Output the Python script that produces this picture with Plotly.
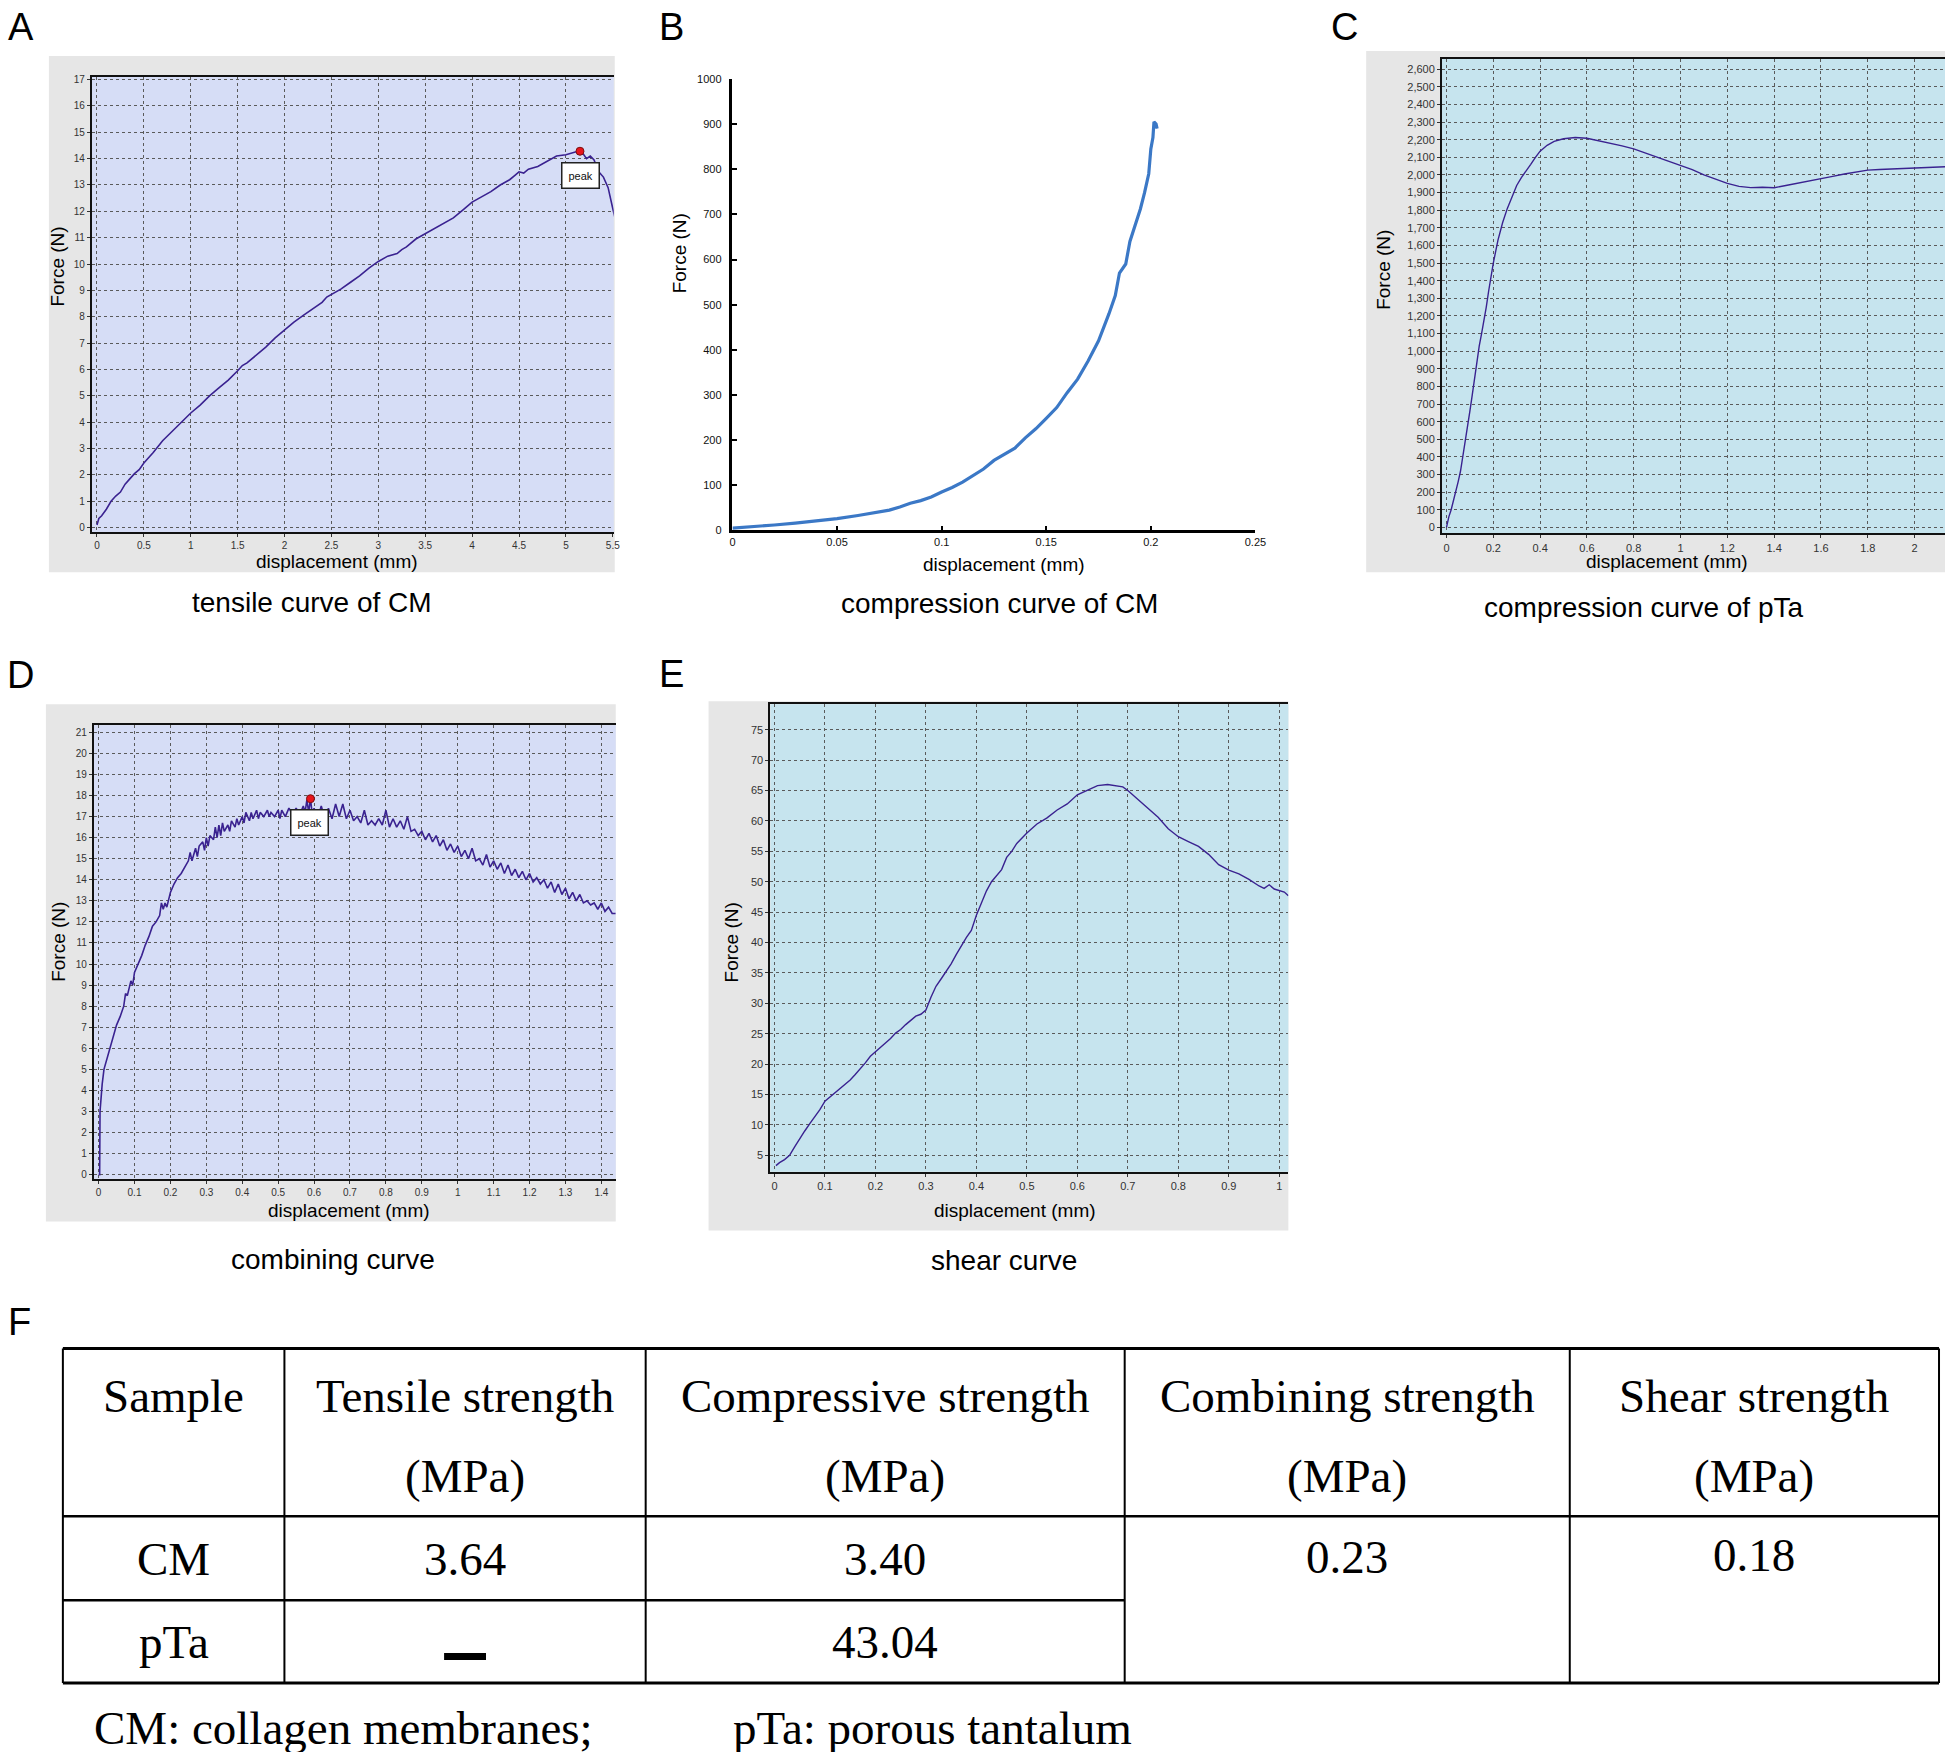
import plotly.graph_objects as go

# ---------------- DATA ----------------
# A: tensile curve of CM
tensile_disp = [0.00, 0.02, 0.05, 0.10, 0.15, 0.20, 0.25, 0.30, 0.35, 0.40, 0.45, 0.50, 0.60, 0.70, 0.80,
                0.90, 1.00, 1.10, 1.20, 1.30, 1.40, 1.50, 1.55, 1.60, 1.70, 1.80, 1.90, 2.00, 2.10, 2.20,
                2.30, 2.40, 2.45, 2.50, 2.60, 2.70, 2.80, 2.90, 3.00, 3.10, 3.20, 3.25, 3.30, 3.40, 3.50,
                3.60, 3.70, 3.80, 3.90, 4.00, 4.10, 4.20, 4.30, 4.40, 4.45, 4.50, 4.55, 4.60, 4.70, 4.80,
                4.90, 5.00, 5.05, 5.10, 5.15, 5.18, 5.22, 5.26, 5.30, 5.35, 5.40, 5.45, 5.50, 5.52]
tensile_force = [0.10, 0.35, 0.45, 0.70, 1.00, 1.20, 1.35, 1.65, 1.85, 2.05, 2.20, 2.45, 2.85, 3.30, 3.65,
                 4.00, 4.35, 4.65, 5.00, 5.30, 5.60, 5.95, 6.15, 6.25, 6.55, 6.85, 7.20, 7.50, 7.80, 8.05,
                 8.30, 8.55, 8.75, 8.85, 9.05, 9.30, 9.55, 9.85, 10.10, 10.30, 10.40, 10.55, 10.65, 10.95, 11.15,
                 11.35, 11.55, 11.75, 12.05, 12.35, 12.55, 12.75, 13.00, 13.20, 13.35, 13.50, 13.45, 13.60, 13.70, 13.90,
                 14.10, 14.15, 14.20, 14.25, 14.27, 14.20, 14.00, 14.10, 13.95, 13.50, 13.30, 12.90, 12.10, 11.80]
tensile_peak = (5.15, 14.28)

# B: compression curve of CM
compCM_disp = [0.000, 0.010, 0.020, 0.030, 0.040, 0.050, 0.060, 0.065, 0.070, 0.075, 0.080, 0.085, 0.090,
               0.095, 0.100, 0.105, 0.110, 0.115, 0.120, 0.125, 0.130, 0.135, 0.140, 0.145, 0.150, 0.155,
               0.160, 0.165, 0.170, 0.175, 0.180, 0.183, 0.185, 0.188, 0.190, 0.193, 0.195, 0.197, 0.199,
               0.200, 0.201, 0.2015, 0.2025, 0.203]
compCM_force = [5, 8, 12, 16, 21, 26, 33, 37, 42, 45, 52, 60, 66,
                74, 85, 95, 107, 122, 136, 155, 168, 182, 205, 225, 248, 272,
                305, 335, 375, 420, 480, 520, 570, 590, 640, 680, 712, 748, 790,
                845, 870, 905, 900, 890]

# C: compression curve of pTa
compTa_disp = [0.000, 0.005, 0.01, 0.02, 0.03, 0.04, 0.05, 0.06, 0.07, 0.08, 0.09, 0.10, 0.11, 0.12, 0.13,
               0.14, 0.15, 0.16, 0.17, 0.18, 0.19, 0.20, 0.22, 0.24, 0.26, 0.28, 0.30, 0.32, 0.34, 0.36,
               0.38, 0.40, 0.43, 0.46, 0.50, 0.55, 0.60, 0.65, 0.70, 0.75, 0.80, 0.85, 0.90, 0.95, 1.00,
               1.05, 1.10, 1.15, 1.20, 1.25, 1.30, 1.35, 1.40, 1.45, 1.50, 1.55, 1.60, 1.65, 1.70, 1.75,
               1.80, 1.85, 1.90, 1.95, 2.00, 2.05, 2.10, 2.13]
compTa_force = [0, 30, 60, 100, 150, 200, 260, 320, 400, 480, 570, 660, 750, 850, 950,
                1030, 1100, 1170, 1250, 1340, 1420, 1500, 1630, 1730, 1810, 1880, 1940, 1985, 2020, 2060,
                2100, 2135, 2168, 2190, 2205, 2212, 2208, 2195, 2182, 2165, 2148, 2125, 2103, 2080, 2057,
                2030, 2000, 1975, 1952, 1935, 1928, 1930, 1927, 1940, 1952, 1965, 1978, 1992, 2005, 2018,
                2027, 2031, 2034, 2036, 2039, 2043, 2046, 2046]

# D: combining curve
comb_disp = [0.000, 0.003, 0.004, 0.006, 0.010, 0.015, 0.020, 0.030, 0.040, 0.050, 0.060, 0.070, 0.075, 0.080,
             0.090, 0.095, 0.100, 0.110, 0.120, 0.130, 0.140, 0.150, 0.160, 0.170, 0.175, 0.180, 0.185, 0.190,
             0.200, 0.210, 0.220, 0.230, 0.240, 0.250, 0.255, 0.260, 0.270, 0.275, 0.280, 0.290, 0.295, 0.300,
             0.305, 0.310, 0.320, 0.325, 0.330, 0.335, 0.340, 0.345, 0.350, 0.360, 0.365, 0.370, 0.380, 0.385,
             0.390, 0.400, 0.405, 0.410, 0.420, 0.425, 0.430, 0.440, 0.445, 0.450, 0.460, 0.470, 0.475, 0.480,
             0.490, 0.500, 0.505, 0.510, 0.520, 0.530, 0.540, 0.550, 0.560, 0.570, 0.575, 0.580, 0.585, 0.590,
             0.595, 0.600, 0.610, 0.620, 0.630, 0.640, 0.650, 0.660, 0.670, 0.680, 0.690, 0.700, 0.710, 0.720,
             0.730, 0.740, 0.750, 0.760, 0.770, 0.780, 0.790, 0.800, 0.810, 0.820, 0.830, 0.840, 0.850, 0.860,
             0.870, 0.880, 0.890, 0.900, 0.910, 0.920, 0.930, 0.940, 0.950, 0.960, 0.970, 0.980, 0.990, 1.000,
             1.010, 1.020, 1.030, 1.040, 1.050, 1.060, 1.070, 1.080, 1.090, 1.100, 1.110, 1.120, 1.130, 1.140,
             1.150, 1.160, 1.170, 1.180, 1.190, 1.200, 1.210, 1.220, 1.230, 1.240, 1.250, 1.260, 1.270, 1.280,
             1.290, 1.300, 1.310, 1.320, 1.330, 1.340, 1.350, 1.360, 1.370, 1.380, 1.390, 1.400, 1.410, 1.420,
             1.430, 1.440]
comb_force = [0.0, 0.0, 3.0, 3.6, 4.3, 5.0, 5.3, 6.0, 6.5, 7.1, 7.5, 8.0, 8.6, 8.5,
              9.2, 9.0, 9.6, 10.0, 10.4, 10.9, 11.3, 11.8, 12.0, 12.3, 12.9, 12.6, 12.9, 12.7,
              13.4, 13.8, 14.1, 14.3, 14.6, 14.9, 15.3, 14.9, 15.5, 15.1, 15.6, 15.8, 15.4, 16.0,
              15.6, 16.1, 15.9, 16.5, 16.0, 16.6, 16.1, 16.7, 16.3, 16.6, 16.3, 16.8, 16.5, 16.9,
              16.6, 17.0, 16.7, 17.2, 16.8, 17.2, 16.9, 17.3, 16.9, 17.2, 17.0, 17.3, 17.0, 17.2,
              17.0, 17.3, 16.9, 17.3, 17.0, 17.4, 17.1, 17.4, 17.1, 17.5, 17.2, 17.8, 17.2, 17.85,
              17.1, 17.4, 16.9, 17.5, 16.9, 17.4, 16.9, 17.6, 17.0, 17.6, 16.9, 17.3, 16.8, 17.0,
              16.7, 17.3, 16.6, 16.8, 16.6, 16.9, 16.6, 17.3, 16.5, 16.9, 16.5, 16.8, 16.4, 17.0,
              16.3, 16.4, 16.1, 16.3, 15.9, 16.2, 15.8, 16.1, 15.6, 15.9, 15.4, 15.7, 15.3, 15.6,
              15.1, 15.4, 15.0, 15.5, 14.9, 15.0, 14.7, 15.2, 14.6, 14.9, 14.5, 14.8, 14.3, 14.7,
              14.2, 14.5, 14.1, 14.4, 14.0, 14.3, 13.9, 14.1, 13.8, 14.0, 13.6, 13.9, 13.4, 13.8,
              13.3, 13.6, 13.1, 13.4, 13.0, 13.3, 12.9, 13.0, 12.8, 12.9, 12.6, 12.9, 12.5, 12.7,
              12.4, 12.4]
comb_peak = (0.59, 17.85)

# E: shear curve
shear_disp = [0.003, 0.01, 0.02, 0.03, 0.04, 0.05, 0.06, 0.07, 0.08, 0.09, 0.10, 0.11, 0.12, 0.13, 0.14,
              0.15, 0.16, 0.17, 0.18, 0.19, 0.20, 0.21, 0.22, 0.23, 0.24, 0.25, 0.26, 0.27, 0.28, 0.29,
              0.30, 0.31, 0.32, 0.33, 0.34, 0.35, 0.36, 0.37, 0.38, 0.39, 0.40, 0.41, 0.42, 0.43, 0.44,
              0.45, 0.46, 0.47, 0.48, 0.49, 0.50, 0.52, 0.54, 0.56, 0.58, 0.60, 0.62, 0.64, 0.66, 0.68,
              0.69, 0.70, 0.72, 0.74, 0.76, 0.78, 0.80, 0.82, 0.84, 0.86, 0.88, 0.90, 0.92, 0.94, 0.96,
              0.97, 0.98, 0.99, 1.00, 1.01, 1.018]
shear_force = [3.3, 3.8, 4.3, 5.0, 6.4, 7.8, 9.0, 10.2, 11.3, 12.5, 13.9, 14.6, 15.3, 16.0, 16.6,
               17.4, 18.3, 19.2, 20.2, 21.3, 22.0, 22.8, 23.4, 24.2, 25.1, 25.7, 26.5, 27.2, 27.9, 28.2,
               28.9, 31.0, 32.8, 34.0, 35.2, 36.5, 38.0, 39.5, 40.8, 42.0, 44.5, 46.5, 48.5, 50.0, 51.0,
               52.0, 54.0, 55.0, 56.3, 57.2, 58.0, 59.5, 60.5, 61.8, 62.8, 64.3, 65.0, 65.8, 66.0, 65.8,
               65.6, 65.0, 63.5, 62.0, 60.6, 58.7, 57.4, 56.6, 55.8, 54.5, 52.8, 51.9, 51.3, 50.4, 49.3,
               48.9, 49.5, 48.8, 48.5, 48.3, 47.7]

# F: table
table_header = ["Sample", "Tensile strength", "Compressive strength", "Combining strength", "Shear strength"]
table_units = ["", "(MPa)", "(MPa)", "(MPa)", "(MPa)"]
samples = ["CM", "pTa"]
tensile_strength = [3.64, None]
compressive_strength = [3.40, 43.04]
combining_strength = [0.23]
shear_strength = [0.18]
footnotes = ["CM: collagen membranes;", "pTa: porous tantalum"]

# ---------------- LAYOUT HELPERS ----------------
W, H = 1946, 1752          # reference frame for positions
FIG_W, FIG_H = 1956, 1762  # figure size (fills the captured area)
def fx(p):
    return p / W
def fy(p):
    return 1 - p / H

SANS = "Liberation Sans, Arial, sans-serif"
SERIF = "Liberation Serif, Times New Roman, serif"
LINE = "#3a2290"
GRID = "#5a5a5a"
LAV = "#d6ddf6"
CYAN = "#c6e4ee"
GRAY = "#e6e6e6"

fig = go.Figure()

def add_curve(x, y, ax, color=LINE, width=1.6):
    fig.add_trace(go.Scatter(x=x, y=y, mode="lines", xaxis=ax[0], yaxis=ax[1],
                             line=dict(color=color, width=width), showlegend=False, hoverinfo="skip"))

add_curve(tensile_disp, tensile_force, ("x", "y"))
add_curve(compCM_disp, compCM_force, ("x2", "y2"), color="#3b78c6", width=3.2)
add_curve(compTa_disp, compTa_force, ("x3", "y3"), width=1.4)
add_curve(comb_disp, comb_force, ("x4", "y4"))
add_curve(shear_disp, shear_force, ("x5", "y5"), width=1.4)

for (px_, py_), ax in [(tensile_peak, ("x", "y")), (comb_peak, ("x4", "y4"))]:
    fig.add_trace(go.Scatter(x=[px_], y=[py_], mode="markers", xaxis=ax[0], yaxis=ax[1],
                             marker=dict(color="#e8141c", size=8, line=dict(color="#7a1010", width=1)),
                             showlegend=False, hoverinfo="skip"))

def grid_axis(domain, rng, dtick, tick0=0, anchor=None, fsize=10, fmt=None, mirror=False):
    d = dict(domain=domain, range=rng, dtick=dtick, tick0=tick0, anchor=anchor,
             showgrid=True, gridcolor=GRID, gridwidth=1, griddash="3px,3px",
             showline=True, linecolor="#111", linewidth=2, mirror=mirror,
             ticks="outside", ticklen=3, tickcolor="#333", zeroline=False,
             tickfont=dict(family=SANS, size=fsize, color="#333"))
    if fmt:
        d["tickformat"] = fmt
    return d

layout = dict(
    width=FIG_W, height=FIG_H, margin=dict(l=0, r=0, t=0, b=0),
    paper_bgcolor="white", plot_bgcolor="rgba(0,0,0,0)",
    xaxis=grid_axis([fx(89), fx(612)], [-0.055, 5.51], 0.5, anchor="y", mirror=True),
    yaxis=grid_axis([fy(527), fy(71)], [-0.18, 17.1], 1, anchor="x"),
    xaxis3=grid_axis([fx(1442), 1.0], [-0.019, 2.13], 0.2, anchor="y3", fsize=11, mirror=True),
    yaxis3=grid_axis([fy(528), fy(53)], [-34, 2658], 100, anchor="x3", fsize=11, fmt=",d"),
    xaxis4=grid_axis([fx(91), fx(614)], [-0.0133, 1.44], 0.1, anchor="y4", mirror=True),
    yaxis4=grid_axis([fy(1174), fy(720)], [-0.19, 21.34], 1, anchor="x4"),
    xaxis5=grid_axis([fx(769), fx(1288)], [-0.008, 1.018], 0.1, anchor="y5", fsize=11, mirror=True),
    yaxis5=grid_axis([fy(1167), fy(699)], [2.31, 79.2], 5, tick0=5, anchor="x5", fsize=11),
    xaxis2=dict(domain=[fx(731), fx(1255)], range=[0, 0.25], dtick=0.05, anchor="y2",
                showgrid=False, zeroline=False, showline=True, linecolor="black", linewidth=2.5,
                ticks="inside", ticklen=5, tickwidth=2, tickcolor="black", ticklabelstandoff=0,
                tickfont=dict(family=SANS, size=11, color="#111")),
    yaxis2=dict(domain=[fy(525), fy(73)], range=[0, 1000], dtick=100, anchor="x2",
                showgrid=False, zeroline=False, showline=True, linecolor="black", linewidth=2.5,
                ticks="inside", ticklen=5, tickwidth=2, tickcolor="black", ticklabelstandoff=6,
                tickfont=dict(family=SANS, size=11, color="#111")),
)
fig.update_layout(**layout)

shapes = []
# grey frames of the instrument screenshots
for x0, x1, y0, y1 in [(46, 613, 50, 567), (1366, 1946, 45, 567), (43, 614, 699, 1217), (707, 1288, 696, 1226)]:
    shapes.append(dict(type="rect", xref="paper", yref="paper", x0=fx(x0), x1=fx(x1), y0=fy(y1), y1=fy(y0),
                       fillcolor=GRAY, line=dict(width=0), layer="below"))
# plot backgrounds
for ax, col in [("", LAV), ("3", CYAN), ("4", LAV), ("5", CYAN)]:
    shapes.append(dict(type="rect", xref=f"x{ax} domain", yref=f"y{ax} domain", x0=0, x1=1, y0=0, y1=1,
                       fillcolor=col, line=dict(width=0), layer="below"))

# table lines
T_L, T_R, T_T, T_B = 60, 1940, 1344, 1679
col_x = [282, 644, 1124, 1570]
HDR_B, ROW_D = 1512, 1596
def hline(y, x0=T_L, x1=T_R, w=2.2):
    shapes.append(dict(type="line", xref="paper", yref="paper", x0=fx(x0), x1=fx(x1), y0=fy(y), y1=fy(y),
                       line=dict(color="black", width=w)))
def vline(x, y0=T_T, y1=T_B, w=2):
    shapes.append(dict(type="line", xref="paper", yref="paper", x0=fx(x), x1=fx(x), y0=fy(y0), y1=fy(y1),
                       line=dict(color="black", width=w)))
hline(T_T, w=3)
hline(T_B, w=3)
hline(HDR_B, w=2.5)
hline(ROW_D, x1=col_x[2], w=2.5)
vline(T_L)
vline(T_R)
for cx in col_x:
    vline(cx)

ann = []
def text(x, y, s, size, family=SANS, angle=0, xanchor="center", color="black"):
    ann.append(dict(x=fx(x), y=fy(y), xref="paper", yref="paper", text=s, showarrow=False,
                    xanchor=xanchor, yanchor="middle", textangle=angle,
                    font=dict(family=family, size=size, color=color)))

# panel letters
for lab, x, y in [("A", 18, 21), ("B", 670, 21), ("C", 1344, 21), ("D", 18, 670), ("E", 670, 669), ("F", 17, 1318)]:
    text(x, y, lab, 38)
# captions
for s, x, y in [("tensile curve of CM", 310, 597), ("compression curve of CM", 999, 598),
                ("compression curve of pTa", 1644, 602), ("combining curve", 331, 1255), ("shear curve", 1003, 1256)]:
    text(x, y, s, 28)
# axis titles
for x, y in [(335, 556), (1003, 559), (1667, 556), (347, 1206), (1014, 1206)]:
    text(x, y, "displacement (mm)", 19)
for x, y in [(55, 261), (678, 248), (1384, 264), (56, 937), (730, 937)]:
    text(x, y, "Force (N)", 19, angle=-90)

# peak labels
for (px_, py_), ax in [((5.16, 13.35), ("x", "y")), ((0.587, 16.7), ("x4", "y4"))]:
    ann.append(dict(x=px_, y=py_, xref=ax[0], yref=ax[1], text="peak", showarrow=False,
                    font=dict(family=SANS, size=11, color="#111"), bgcolor="white",
                    bordercolor="#222", borderwidth=1.5, borderpad=6))

# table text
col_cx = [171, 463, 884, 1347, 1755]
TS = 47
for i, (h, u) in enumerate(zip(table_header, table_units)):
    text(col_cx[i], 1392, h, TS, family=SERIF)
    if u:
        text(col_cx[i], 1472, u, TS, family=SERIF)
row_cy = [1555, 1638]
for r, s in enumerate(samples):
    text(col_cx[0], row_cy[r], s, TS, family=SERIF)
    v = tensile_strength[r]
    if v is None:
        # "no value" dash drawn as a thick bar, like the source table
        shapes.append(dict(type="rect", xref="paper", yref="paper", x0=fx(442), x1=fx(484),
                           y0=fy(1656), y1=fy(1649), fillcolor="black", line=dict(width=0)))
    else:
        text(col_cx[1], row_cy[r], f"{v:.2f}", TS, family=SERIF)
    text(col_cx[2], row_cy[r], f"{compressive_strength[r]:.2f}", TS, family=SERIF)
text(col_cx[3], 1553, f"{combining_strength[0]:.2f}", TS, family=SERIF)
text(col_cx[4], 1551, f"{shear_strength[0]:.2f}", TS, family=SERIF)
text(89, 1724, footnotes[0], TS, family=SERIF, xanchor="left")
text(730, 1724, footnotes[1], TS, family=SERIF, xanchor="left")

fig.update_layout(annotations=ann, shapes=shapes)
fig.write_html(
    "out.html",
    config={"displayModeBar": False},
    post_script=("document.body.style.margin='0px';document.body.style.overflow='hidden';"
                 "document.documentElement.style.overflow='hidden';"),
)
